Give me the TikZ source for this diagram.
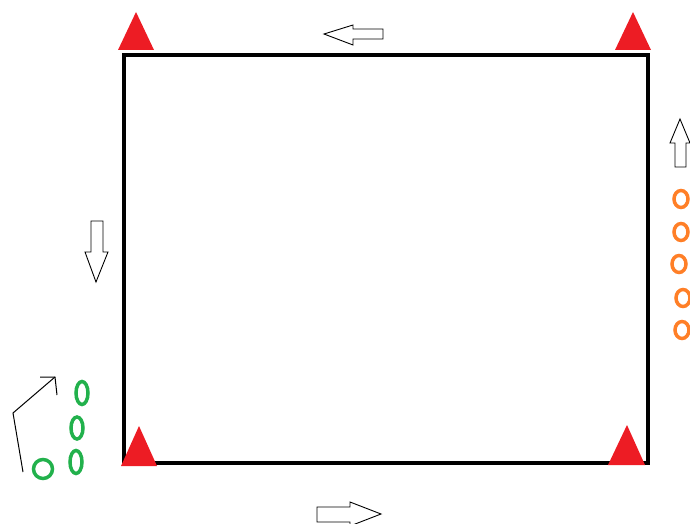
\documentclass[tikz,border=0pt]{standalone}
\definecolor{pred}{HTML}{ED1C24}
\definecolor{porange}{HTML}{FF7F27}
\definecolor{pgreen}{HTML}{22B14C}
\tikzset{
  wall/.style={line width=4pt, line cap=rect},
  tri/.style={fill=pred, draw=none},
  hollow/.style={draw=black, line width=0.9pt, fill=white, line join=miter},
  orng/.style={draw=porange, line width=3.5pt},
  grn/.style={draw=pgreen, line width=3.5pt},
  thin/.style={draw=black, line width=1pt}
}
\begin{document}
\begin{tikzpicture}[x=1pt,y=-1pt]
\useasboundingbox (0,0) rectangle (690,524);
% room
\coordinate (tl) at (124,55);
\coordinate (tr) at (648,55);
\coordinate (br) at (648,463);
\coordinate (bl) at (124,463);
\draw[wall] (tl) -- (tr) -- (br) -- (bl) -- cycle;
% triangles
\fill[tri] (118,50) -- (136,12) -- (154,50) -- cycle;
\fill[tri] (615,50) -- (633,12) -- (651,50) -- cycle;
\fill[tri] (121,466) -- (139,426) -- (157,466) -- cycle;
\fill[tri] (608,465) -- (627,425) -- (645,465) -- cycle;
% hollow arrows
\draw[hollow] (383,29) -- (353,29) -- (353,25) -- (324,34) -- (353,45) -- (353,39) -- (383,39) -- cycle;
\draw[hollow] (317,507) -- (350,507) -- (350,502) -- (381,514) -- (350,526) -- (350,522) -- (317,522) -- cycle;
\draw[hollow] (91,221) -- (103,221) -- (103,252) -- (108,252) -- (96,282) -- (85,252) -- (91,252) -- cycle;
\draw[hollow] (675,167) -- (675,143) -- (670,143) -- (680,119) -- (690,143) -- (686,143) -- (686,167) -- cycle;
% orange circles
\draw[orng] (681,199) ellipse (7 and 8.5);
\draw[orng] (681,232) ellipse (7 and 8.5);
\draw[orng] (679,264) ellipse (7 and 8.5);
\draw[orng] (683,298) ellipse (7 and 8.5);
\draw[orng] (682,330) ellipse (7 and 8.5);
% green
\draw[grn] (82,393) ellipse (6 and 11.5);
\draw[grn] (77,428) ellipse (6 and 11);
\draw[grn] (76,462) ellipse (6 and 11.5);
\draw[grn] (43,469) circle (9.5);
% curved arrow
\coordinate (ca) at (23,472);
\coordinate (cb) at (13,413);
\coordinate (cc) at (55,377);
\draw[thin] (ca) -- (cb) -- (cc);
\draw[thin] (40,377) -- (cc) -- (57,395);
\end{tikzpicture}
\end{document}
